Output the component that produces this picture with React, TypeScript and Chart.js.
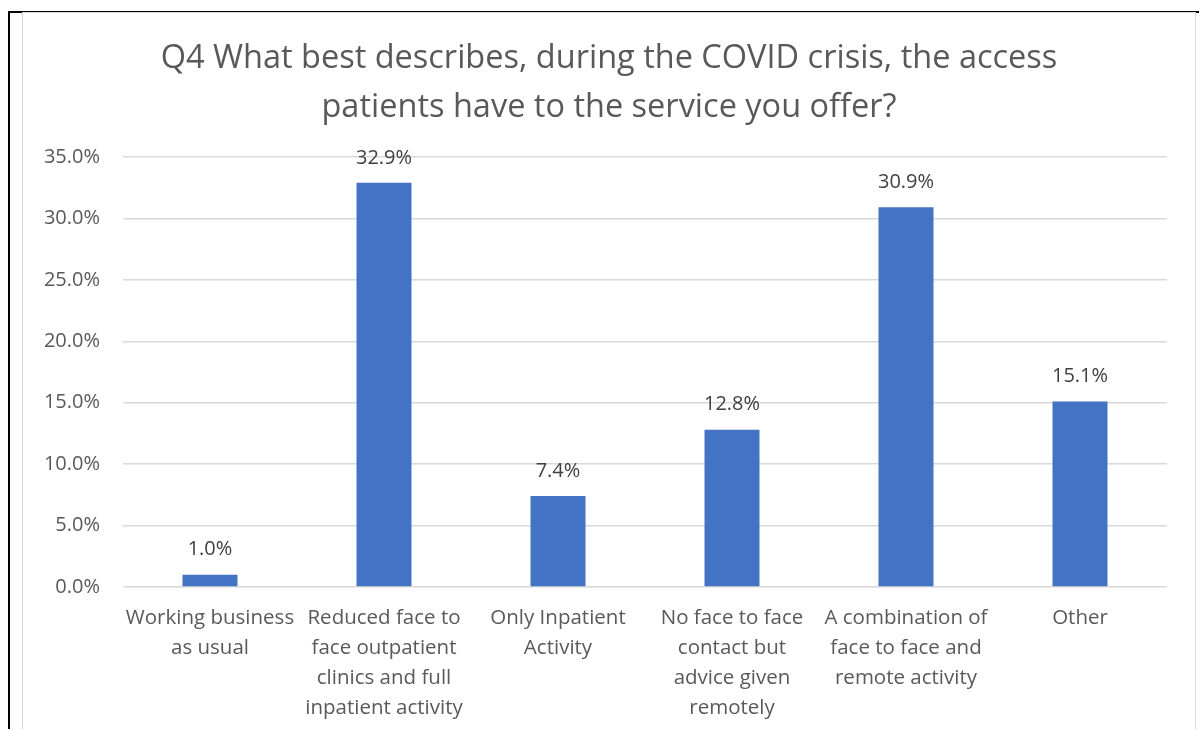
import React, { useEffect, useRef } from "react";
import { Chart, registerables } from "chart.js";

Chart.register(...registerables);

const categories: string[][] = [
  ["Working business", "as usual"],
  ["Reduced face to", "face outpatient", "clinics and full", "inpatient activity"],
  ["Only Inpatient", "Activity"],
  ["No face to face", "contact but", "advice given", "remotely"],
  ["A combination of", "face to face and", "remote activity"],
  ["Other"],
];
const values: number[] = [1.0, 32.9, 7.4, 12.8, 30.9, 15.1];
const titleLines: string[] = [
  "Q4 What best describes, during the COVID crisis, the access",
  "patients have to the service you offer?",
];
const yMax = 35;
const yStep = 5;

const FONT = "'Open Sans', 'Noto Sans', sans-serif";

const dataLabelPlugin = {
  id: "dataLabels",
  afterDatasetsDraw(chart: any) {
    const { ctx } = chart;
    const meta = chart.getDatasetMeta(0);
    ctx.save();
    ctx.font = `20px ${FONT}`;
    ctx.fillStyle = "#404040";
    ctx.textAlign = "center";
    ctx.textBaseline = "middle";
    meta.data.forEach((bar: any, i: number) => {
      ctx.fillText(values[i].toFixed(1) + "%", bar.x, bar.y - 25);
    });
    ctx.restore();
  },
};

const titlePlugin = {
  id: "centeredTitle",
  afterDraw(chart: any) {
    const { ctx, width } = chart;
    ctx.save();
    ctx.font = `32.5px ${FONT}`;
    ctx.fillStyle = "#595959";
    ctx.textAlign = "center";
    ctx.textBaseline = "middle";
    titleLines.forEach((line, i) => {
      ctx.fillText(line, width / 2, 46 + i * 49);
    });
    ctx.restore();
  },
};

export default function App() {
  const ref = useRef<HTMLCanvasElement | null>(null);
  useEffect(() => {
    if (!ref.current) return;
    const chart = new Chart(ref.current, {
      type: "bar",
      data: {
        labels: categories,
        datasets: [
          {
            data: values,
            backgroundColor: "#4472C4",
            barPercentage: 0.316,
            categoryPercentage: 1,
          },
        ],
      },
      options: {
        animation: false,
        responsive: false,
        maintainAspectRatio: false,
        layout: { padding: { left: 0, right: 28, top: 144, bottom: 0 } },
        plugins: {
          legend: { display: false },
          tooltip: { enabled: false },
          title: { display: false },
        },
        scales: {
          x: {
            grid: { display: false },
            border: { display: false },
            ticks: {
              color: "#595959",
              font: { family: FONT, size: 20.5, lineHeight: 1.47 },
              maxRotation: 0,
              autoSkip: false,
              padding: 8,
            },
            afterFit: (axis: any) => {
              axis.height = 141;
            },
          },
          y: {
            min: 0,
            max: yMax,
            border: { display: false },
            grid: { color: "#d9d9d9", lineWidth: 1.5, drawTicks: false },
            ticks: {
              stepSize: yStep,
              color: "#595959",
              font: { family: FONT, size: 20 },
              padding: 23,
              callback: (v: any) => Number(v).toFixed(1) + "%",
            },
            afterFit: (axis: any) => {
              axis.width = 100;
            },
          },
        },
      },
      plugins: [dataLabelPlugin, titlePlugin],
    });
    return () => chart.destroy();
  }, []);

  return (
    <div style={{ position: "absolute", left: 0, top: 0, width: 1199, height: 729, overflow: "hidden", background: "#fff" }}>
      <div style={{ position: "absolute", left: 8, top: 11, width: 1190, height: 730, borderLeft: "2px solid #000", borderTop: "2px solid #000" }} />
      <div style={{ position: "absolute", left: 22, top: 12, width: 1172, height: 730, border: "1.5px solid #d9d9d9", background: "#fff" }}>
        <canvas ref={ref} width={1172} height={715} style={{ display: "block" }} />
      </div>
    </div>
  );
}
